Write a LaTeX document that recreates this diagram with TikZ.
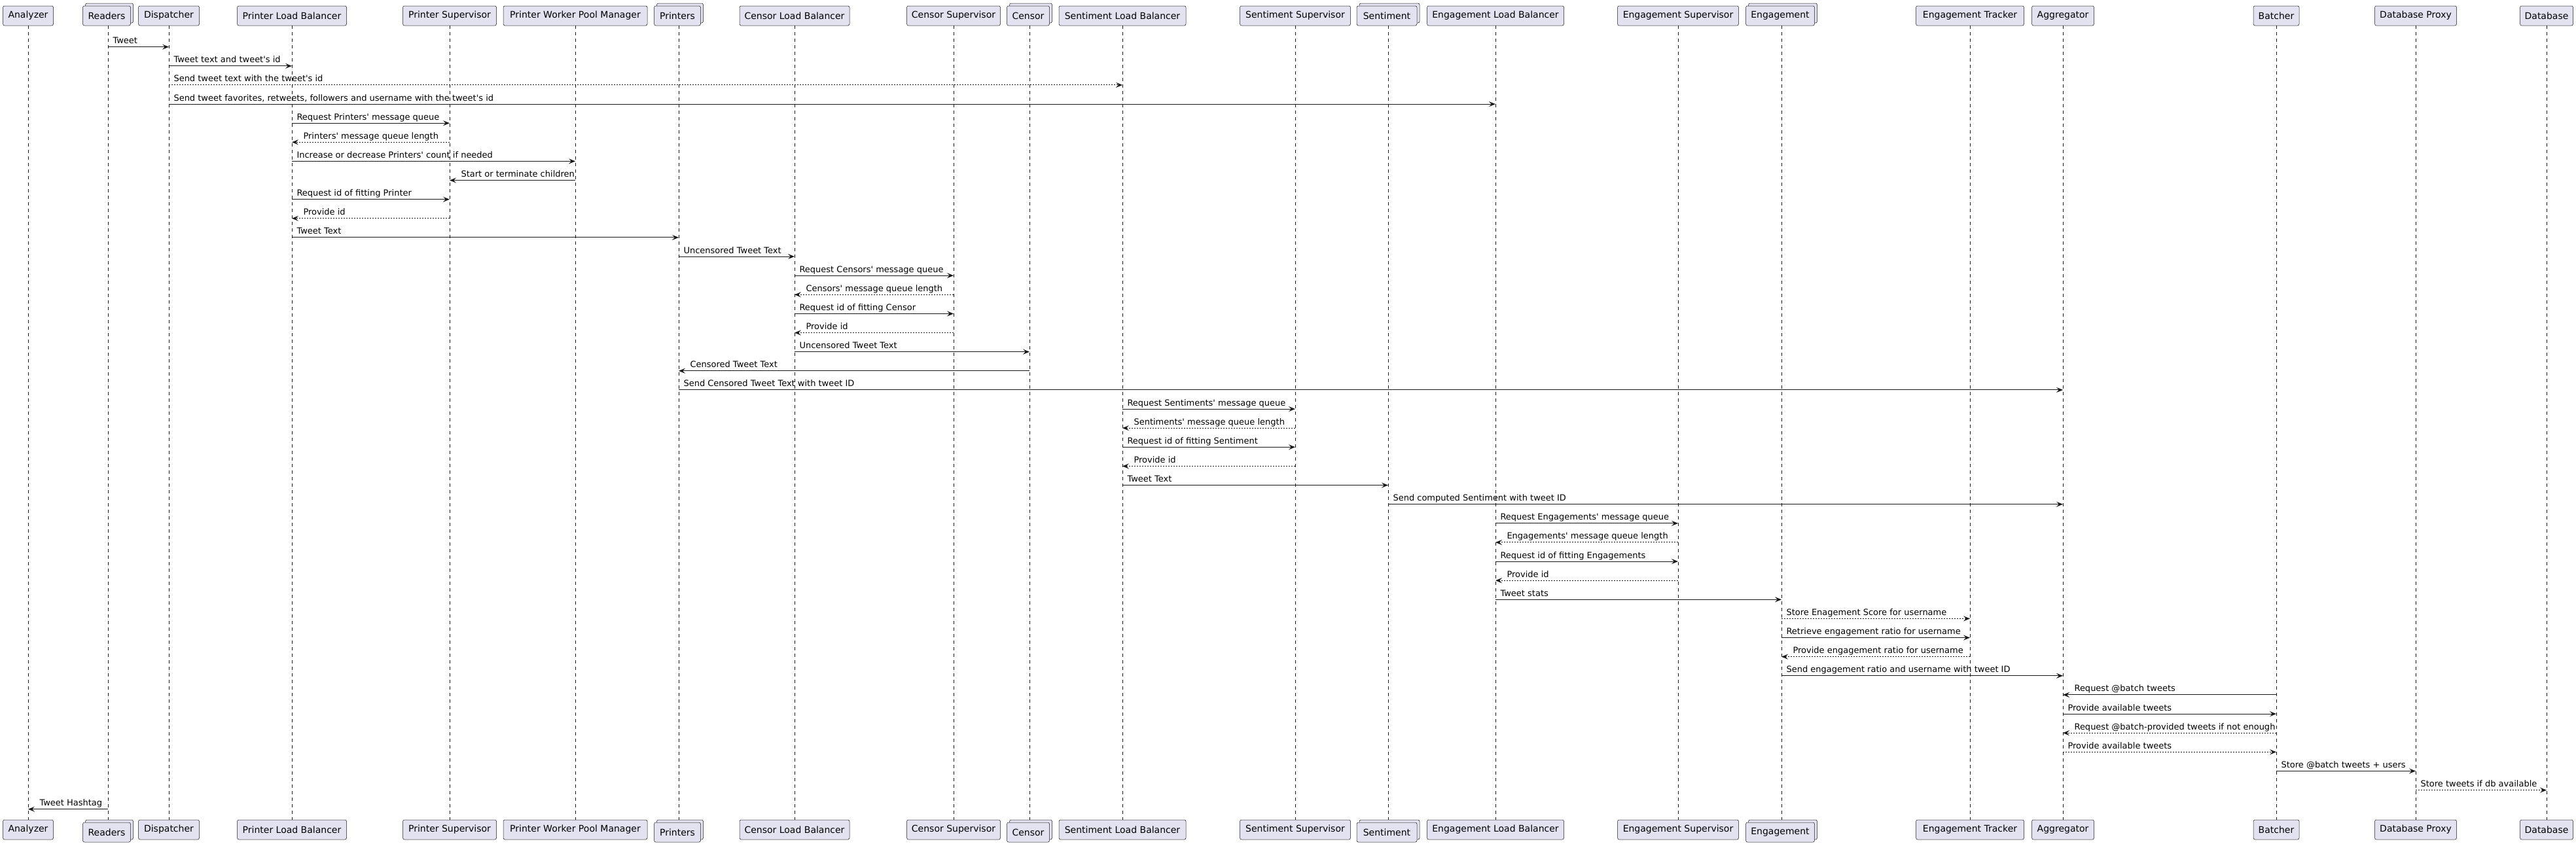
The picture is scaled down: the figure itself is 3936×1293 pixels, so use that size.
\documentclass[tikz,border=0pt]{standalone}
\usepackage{fontspec}
\setmainfont{DejaVu Sans}[Ligatures=TeXOff]
\usetikzlibrary{arrows.meta}

\definecolor{boxfill}{HTML}{E2E2F0}
\definecolor{line}{HTML}{181818}

\tikzset{
  boxln/.style={draw=line, fill=boxfill, line width=0.5pt, rounded corners=2.5pt},
  part/.style={boxln, minimum height=30, inner sep=0pt, outer sep=0pt, font=\fontsize{14}{16}\selectfont},
  life/.style={draw=line, line width=0.5pt, dash pattern=on 5pt off 5pt},
  msg/.style={draw=line, line width=1pt, -{Stealth[length=10pt, width=8pt, inset=4pt]}},
  ret/.style={msg, dash pattern=on 2pt off 2pt},
  lbl/.style={anchor=base west, inner sep=0pt, yshift=5pt, font=\fontsize{13}{15}\selectfont},
  callr/.style={msg, every node/.append style={pos=0, xshift=7pt}},
  calll/.style={msg, every node/.append style={pos=1, xshift=17pt}},
  retr/.style={ret, every node/.append style={pos=0, xshift=7pt}},
  retl/.style={ret, every node/.append style={pos=1, xshift=17pt}},
}

\begin{document}
\begin{tikzpicture}[x=1pt, y=-1pt]
\fill[white] (0,0) rectangle (3936,1293);
\useasboundingbox (0,0) rectangle (3936,1293);

% participants
\foreach \name/\x/\w/\txt in {%
    Analyzer/43/77/Analyzer,
    Dispatcher/258/93/Dispatcher,
    PLB/446/167/Printer Load Balancer,
    PS/687/143/Printer Supervisor,
    PWPM/879/220/Printer Worker Pool Manager,
    CLB/1214/168/Censor Load Balancer,
    CS/1457/143/Censor Supervisor,
    SLB/1715/194/Sentiment Load Balancer,
    SS/1979/169/Sentiment Supervisor,
    ELB/2285/209/Engagement Load Balancer,
    ES/2564/185/Engagement Supervisor,
    ET/3010/165/Engagement Tracker,
    Aggregator/3152/95/Aggregator,
    Batcher/3478/70/Batcher,
    DBProxy/3691/125/Database Proxy,
    Database/3891/81/Database
} {
    \draw[life] (\x,39) -- (\x,1253);
    \coordinate (\name) at (\x,39);
    \node[part, minimum width=\w] (\name-top) at (\x,24) {\txt};
    \node[part, minimum width=\w] (\name-bot) at (\x,1268) {\txt};
}
% collections
\foreach \name/\x/\w in {Readers/165/73, Printers/1037/71, Censor/1573/65, Sentiment/2121/92, Engagement/2722/105} {
    \draw[life] (\x,39) -- (\x,1253);
    \coordinate (\name) at (\x,39);
    \draw[boxln] (\x-\w/2+2,5) rectangle (\x+\w/2+2,35);
    \node[part, minimum width=\w] (\name-top) at (\x-2,24) {\name};
    \draw[boxln] (\x-\w/2+2,1253) rectangle (\x+\w/2+2,1283);
    \node[part, minimum width=\w] (\name-bot) at (\x-2,1272) {\name};
}

% messages
\foreach \k/\from/\to/\st/\txt in {%
    1/Readers/Dispatcher/callr/Tweet,
    2/Dispatcher/PLB/callr/Tweet text and tweet's id,
    3/Dispatcher/SLB/retr/Send tweet text with the tweet's id,
    4/Dispatcher/ELB/callr/{Send tweet favorites, retweets, followers and username with the tweet's id},
    5/PLB/PS/callr/Request Printers' message queue,
    6/PS/PLB/retl/Printers' message queue length,
    7/PLB/PWPM/callr/Increase or decrease Printers' count if needed,
    8/PWPM/PS/calll/Start or terminate children,
    9/PLB/PS/callr/Request id of fitting Printer,
    10/PS/PLB/retl/Provide id,
    11/PLB/Printers/callr/Tweet Text,
    12/Printers/CLB/callr/Uncensored Tweet Text,
    13/CLB/CS/callr/Request Censors' message queue,
    14/CS/CLB/retl/Censors' message queue length,
    15/CLB/CS/callr/Request id of fitting Censor,
    16/CS/CLB/retl/Provide id,
    17/CLB/Censor/callr/Uncensored Tweet Text,
    18/Censor/Printers/calll/Censored Tweet Text,
    19/Printers/Aggregator/callr/Send Censored Tweet Text with tweet ID,
    20/SLB/SS/callr/Request Sentiments' message queue,
    21/SS/SLB/retl/Sentiments' message queue length,
    22/SLB/SS/callr/Request id of fitting Sentiment,
    23/SS/SLB/retl/Provide id,
    24/SLB/Sentiment/callr/Tweet Text,
    25/Sentiment/Aggregator/callr/Send computed Sentiment with tweet ID,
    26/ELB/ES/callr/Request Engagements' message queue,
    27/ES/ELB/retl/Engagements' message queue length,
    28/ELB/ES/callr/Request id of fitting Engagements,
    29/ES/ELB/retl/Provide id,
    30/ELB/Engagement/callr/Tweet stats,
    31/Engagement/ET/retr/Store Enagement Score for username,
    32/Engagement/ET/callr/Retrieve engagement ratio for username,
    33/ET/Engagement/retl/Provide engagement ratio for username,
    34/Engagement/Aggregator/callr/Send engagement ratio and username with tweet ID,
    35/Batcher/Aggregator/calll/Request @batch tweets,
    36/Aggregator/Batcher/callr/Provide available tweets,
    37/Batcher/Aggregator/retl/Request @batch-provided tweets if not enough,
    38/Aggregator/Batcher/retr/Provide available tweets,
    39/Batcher/DBProxy/callr/Store @batch tweets + users,
    40/DBProxy/Database/retr/Store tweets if db available,
    41/Readers/Analyzer/calll/Tweet Hashtag
} {
    \pgfmathsetmacro\y{71.7+29.125*(\k-1)}
    \draw[\st] (\from |- 0,\y) -- (\to |- 0,\y) node[lbl] {\txt};
}
\end{tikzpicture}
\end{document}
